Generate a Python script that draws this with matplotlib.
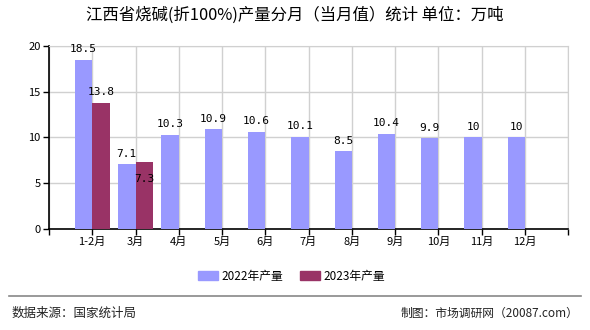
import matplotlib.pyplot as plt
from matplotlib.lines import Line2D

plt.rcParams['font.family'] = ['Noto Sans CJK SC', 'DejaVu Sans']

# data
months = ["1-2月", "3月", "4月", "5月", "6月", "7月", "8月", "9月", "10月", "11月", "12月"]
prod_2022 = [18.5, 7.1, 10.3, 10.9, 10.6, 10.1, 8.5, 10.4, 9.9, 10, 10]
prod_2023 = [13.8, 7.3]
labels_2022 = ["18.5", "7.1", "10.3", "10.9", "10.6", "10.1", "8.5", "10.4", "9.9", "10", "10"]
labels_2023 = ["13.8", "7.3"]

c22 = "#9999FF"
c23 = "#993366"

fig = plt.figure(figsize=(5.9, 3.3), dpi=100)
ax = fig.add_axes([0.083, 0.306, 0.88, 0.555])

pos = [i + 1 for i in range(len(months))]
w = 0.4
ax.bar([p - w / 2 for p in pos], prod_2022, width=w, color=c22, zorder=3)
ax.bar([p + w / 2 for p in pos[:len(prod_2023)]], prod_2023, width=w, color=c23, zorder=3)

for p, v, s in zip(pos, prod_2022, labels_2022):
    ax.text(p - w / 2, v + 0.6, s, ha="center", va="bottom", fontsize=8,
            family="DejaVu Sans Mono", zorder=4)
for i, (p, v, s) in enumerate(zip(pos, prod_2023, labels_2023)):
    # the 3月 label sits just below the bar top in the original
    y = v + 0.6 if i == 0 else v - 2.4
    ax.text(p + w / 2, y, s, ha="center", va="bottom", fontsize=8,
            family="DejaVu Sans Mono", zorder=4)

ax.set_xlim(0, 12)
ax.set_ylim(0, 20)
ax.set_xticks(range(13))
ax.set_xticklabels([""] + months + [""], fontsize=8)
ax.set_yticks([0, 5, 10, 15, 20])
ax.set_yticklabels(["0", "5", "10", "15", "20"], fontsize=8)
ax.grid(True, color="#d0d0d0", linewidth=1, zorder=0)
ax.tick_params(length=4, width=1, color="black", pad=2)
for side in ["top", "right"]:
    ax.spines[side].set_color("#d0d0d0")
for side in ["left", "bottom"]:
    ax.spines[side].set_color("black")
    ax.spines[side].set_linewidth(1.2)

fig.text(0.5, 0.953, "江西省烧碱(折100%)产量分月（当月值）统计 单位：万吨",
         ha="center", va="center", fontsize=11.8)

handles = [plt.Rectangle((0, 0), 1, 1, color=c22), plt.Rectangle((0, 0), 1, 1, color=c23)]
fig.legend(handles, ["2022年产量", "2023年产量"], loc="center", bbox_to_anchor=(0.494, 0.163),
           ncol=2, frameon=False, fontsize=8.5, handlelength=1.7, handleheight=0.8,
           columnspacing=1.4, handletextpad=0.3)

fig.add_artist(Line2D([0.015, 0.985], [0.103, 0.103], color="#888888", linewidth=1.2))
fig.text(0.02, 0.05, "数据来源：国家统计局", ha="left", va="center", fontsize=9, color="#222222")
fig.text(0.98, 0.05, "制图：市场调研网（20087.com）", ha="right", va="center", fontsize=8.5, color="#222222")

fig.savefig("out.png", dpi=100)
